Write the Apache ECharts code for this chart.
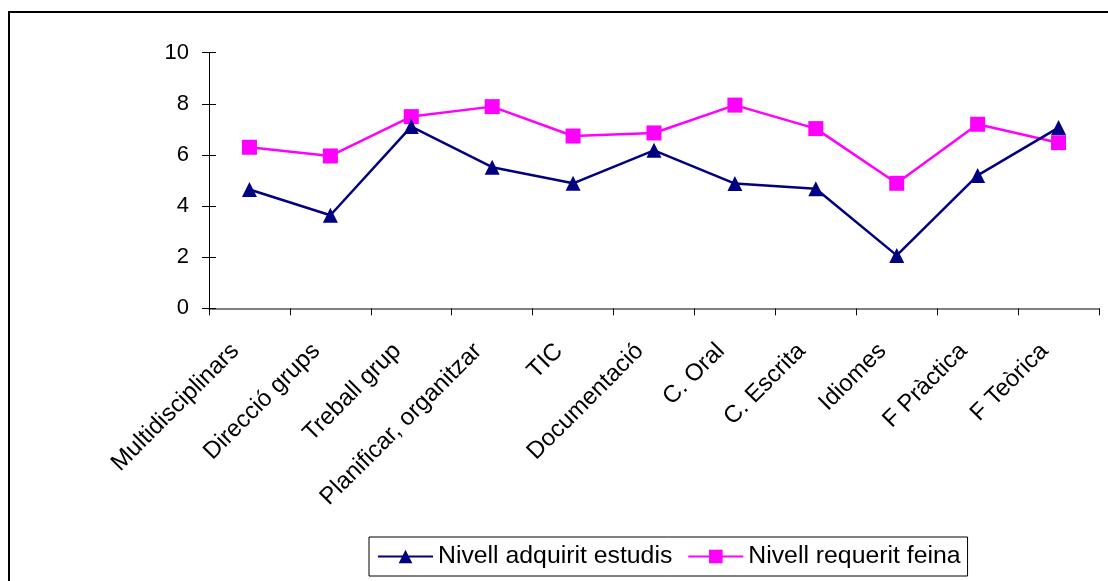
<!DOCTYPE html>
<html>
<head>
<meta charset="utf-8">
<script src="https://cdn.jsdelivr.net/npm/echarts@6/dist/echarts.min.js"></script>
<style>
html,body{margin:0;padding:0;background:#fff;}
#chart{width:1108px;height:581px;}
</style>
</head>
<body>
<div id="chart"></div>
<script>
const categories = ["Multidisciplinars","Direcció grups","Treball grup","Planificar, organitzar","TIC","Documentació","C. Oral","C. Escrita","Idiomes","F Pràctica","F Teòrica"];
const nivellAdquirit = [4.65, 3.64, 7.11, 5.52, 4.89, 6.18, 4.88, 4.68, 2.07, 5.20, 7.07];
const nivellRequerit = [6.30, 5.96, 7.50, 7.89, 6.74, 6.86, 7.95, 7.03, 4.89, 7.20, 6.48];
const seriesNames = ["Nivell adquirit estudis", "Nivell requerit feina"];

const FONT = '"Liberation Sans", Arial, sans-serif';
const chart = echarts.init(document.getElementById('chart'), null, {renderer: 'canvas'});
chart.setOption({
  animation: false,
  backgroundColor: '#fff',
  textStyle: {fontFamily: FONT},
  grid: {left: 209, right: 9, top: 52.7, bottom: 272.7, containLabel: false},
  graphic: [{
    type: 'polyline',
    shape: {points: [[9, 590], [9, 12], [1120, 12]]},
    style: {stroke: '#000', lineWidth: 2, fill: null},
    z: 100
  }],
  legend: {
    left: 369, top: 537,
    orient: 'horizontal',
    borderColor: '#000', borderWidth: 1,
    padding: [7, 7, 7, 8],
    itemWidth: 55, itemHeight: 17, itemGap: 15,
    textStyle: {fontFamily: FONT, fontSize: 24.8, color: '#000'},
    data: seriesNames
  },
  xAxis: {
    type: 'category',
    data: categories,
    boundaryGap: true,
    axisLine: {show: true, lineStyle: {color: '#555', width: 1.5}},
    axisTick: {show: true, length: 7, lineStyle: {color: '#000', width: 1}},
    axisLabel: {rotate: 45, fontSize: 24, color: '#000', fontFamily: FONT, margin: 25, interval: 0, padding: [0, 20, 0, 0]},
    splitLine: {show: false}
  },
  yAxis: [{
    type: 'value', min: 0, max: 10, interval: 2,
    axisLine: {show: true, lineStyle: {color: '#000', width: 1}},
    axisTick: {show: true, length: 7, lineStyle: {color: '#000'}},
    axisLabel: {fontSize: 22, color: '#000', fontFamily: FONT, margin: 20},
    splitLine: {show: false}
  }, {
    type: 'value', min: 0, max: 10, interval: 2, position: 'left',
    axisLine: {show: false},
    axisTick: {show: true, inside: true, length: 7, lineStyle: {color: '#000'}},
    axisLabel: {show: false},
    splitLine: {show: false}
  }],
  series: [{
    name: seriesNames[0],
    type: 'line',
    data: nivellAdquirit,
    symbol: 'triangle', symbolSize: 15,
    lineStyle: {color: '#000080', width: 2.5},
    itemStyle: {color: '#000080'},
    z: 3
  }, {
    name: seriesNames[1],
    type: 'line',
    data: nivellRequerit,
    symbol: 'rect', symbolSize: 15,
    lineStyle: {color: '#ff00ff', width: 2.5},
    itemStyle: {color: '#ff00ff'},
    z: 2
  }]
});
</script>
</body>
</html>
